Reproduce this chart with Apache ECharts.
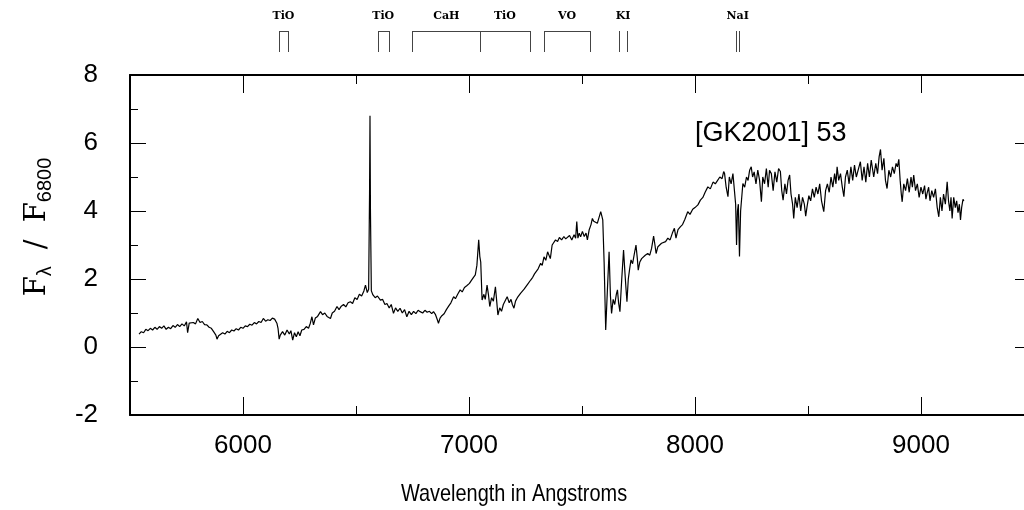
<!DOCTYPE html>
<html>
<head>
<meta charset="utf-8">
<script src="https://cdn.jsdelivr.net/npm/echarts@6/dist/echarts.min.js"></script>
<style>html,body{margin:0;padding:0;background:#fff}#c{width:1024px;height:510px}</style>
</head>
<body>
<div id="c"></div>
<script>
// Spectrum (wavelength in Angstroms, normalized flux F_lambda / F_6800)
const wavelength = [5540,5550,5560,5570,5580,5590,5600,5610,5620,5630,5640,5650,5660,5670,5680,5690,5700,5710,5720,5730,5740,5750,5755,5762,5770,5780,5790,5800,5810,5820,5830,5840,5850,5860,5870,5880,5885,5892,5900,5910,5920,5930,5940,5950,5960,5970,5980,5990,6000,6010,6020,6030,6040,6050,6060,6070,6080,6090,6100,6110,6120,6130,6140,6150,6155,6160,6165,6175,6185,6195,6205,6212,6220,6228,6236,6244,6252,6260,6270,6280,6290,6298,6305,6312,6320,6330,6343,6352,6362,6372,6380,6387,6395,6405,6416,6425,6435,6445,6455,6465,6475,6485,6495,6505,6515,6525,6535,6542,6550,6556,6560,6562,6564,6568,6575,6585,6595,6608,6618,6628,6637,6647,6656,6666,6675,6685,6695,6705,6715,6725,6735,6745,6755,6765,6775,6784,6795,6805,6815,6825,6835,6843,6852,6860,6865,6872,6880,6890,6900,6910,6920,6932,6940,6950,6961,6970,6980,6990,7002,7010,7020,7028,7035,7043,7048,7052,7058,7066,7072,7080,7086,7092,7100,7108,7117,7122,7128,7136,7144,7152,7160,7169,7178,7186,7192,7199,7206,7214,7222,7228,7236,7244,7252,7260,7268,7273,7282,7290,7298,7306,7317,7324,7332,7340,7348,7354,7360,7368,7376,7383,7392,7400,7410,7420,7428,7435,7445,7455,7465,7472,7477,7482,7488,7494,7502,7510,7518,7524,7532,7540,7546,7552,7560,7568,7575,7583,7588,7592,7598,7605,7612,7620,7626,7631,7638,7645,7652,7657,7662,7668,7676,7684,7690,7695,7699,7705,7711,7717,7724,7732,7739,7745,7749,7756,7764,7772,7780,7791,7800,7808,7817,7823,7828,7836,7844,7852,7860,7870,7880,7890,7900,7909,7916,7925,7936,7945,7955,7968,7978,7990,8000,8013,8024,8035,8045,8057,8068,8080,8090,8101,8110,8120,8127,8131,8138,8146,8152,8160,8168,8175,8180,8184,8188,8192,8197,8202,8212,8220,8228,8235,8242,8249,8255,8262,8270,8278,8286,8294,8300,8308,8316,8324,8330,8338,8346,8354,8362,8370,8378,8384,8390,8398,8405,8412,8419,8425,8432,8437,8444,8452,8460,8468,8476,8484,8490,8496,8504,8512,8520,8528,8536,8544,8552,8560,8570,8578,8586,8594,8602,8610,8618,8624,8629,8636,8644,8652,8659,8666,8674,8682,8690,8698,8706,8714,8722,8732,8740,8748,8756,8764,8772,8780,8791,8800,8808,8815,8821,8828,8836,8843,8850,8858,8866,8874,8882,8890,8896,8902,8908,8913,8917,8924,8932,8940,8948,8956,8962,8968,8976,8984,8992,9000,9008,9016,9022,9027,9034,9040,9048,9056,9064,9072,9079,9086,9093,9100,9108,9116,9122,9128,9133,9138,9145,9152,9158,9164,9170,9175,9180,9186,9190];
const flux = [0.38,0.45,0.42,0.52,0.48,0.55,0.50,0.58,0.52,0.60,0.55,0.62,0.52,0.58,0.54,0.63,0.58,0.66,0.60,0.68,0.62,0.74,0.42,0.70,0.66,0.72,0.68,0.84,0.72,0.75,0.66,0.65,0.58,0.55,0.45,0.35,0.23,0.33,0.30,0.42,0.38,0.46,0.42,0.50,0.47,0.54,0.50,0.58,0.55,0.62,0.60,0.67,0.64,0.72,0.68,0.75,0.72,0.84,0.76,0.80,0.78,0.85,0.82,0.70,0.55,0.23,0.35,0.45,0.35,0.50,0.38,0.48,0.20,0.42,0.30,0.45,0.33,0.50,0.52,0.60,0.55,0.70,0.89,0.65,0.85,0.90,1.04,0.95,1.00,0.90,0.95,0.84,1.00,1.05,1.19,1.10,1.20,1.25,1.18,1.30,1.33,1.28,1.45,1.40,1.55,1.50,1.65,1.82,1.60,1.70,4.5,6.8,4.0,1.65,1.53,1.45,1.50,1.38,1.40,1.25,1.28,1.15,1.25,0.99,1.15,1.05,1.14,1.00,1.10,0.89,1.05,0.95,1.05,0.98,1.08,1.04,1.00,1.08,1.02,1.05,0.98,1.04,0.95,0.80,0.70,0.85,0.92,0.98,1.10,1.20,1.30,1.48,1.42,1.55,1.68,1.62,1.75,1.80,1.87,1.95,2.05,2.12,2.40,3.15,2.66,2.50,1.38,1.55,1.40,1.82,1.55,1.19,1.45,1.35,1.77,1.40,0.94,1.15,1.05,1.25,1.20,1.48,1.30,1.40,1.25,1.14,1.35,1.45,1.40,1.58,1.55,1.70,1.65,1.85,1.80,1.97,2.05,2.15,2.10,2.30,2.46,2.40,2.65,2.55,2.80,2.85,2.60,3.00,2.95,3.15,3.10,3.22,3.15,3.25,3.18,3.20,3.28,3.15,3.30,3.20,3.69,3.20,3.35,3.24,3.40,3.25,3.35,3.15,3.45,3.60,3.78,3.70,3.65,3.64,3.80,3.98,3.85,3.74,2.50,0.50,1.60,2.80,1.50,0.99,1.40,1.25,1.55,1.68,1.30,1.04,2.00,2.85,2.20,1.70,1.33,2.00,2.30,2.56,2.45,2.75,3.00,2.60,2.26,2.50,2.60,2.55,2.70,2.75,2.70,2.90,3.26,3.00,2.75,2.95,2.90,3.05,3.00,3.10,3.20,3.15,3.35,3.49,3.20,3.45,3.54,3.60,3.75,3.98,3.90,4.05,4.10,4.18,4.32,4.40,4.55,4.71,4.65,4.85,4.80,4.91,5.00,4.95,5.16,5.10,4.70,4.42,5.00,4.80,5.10,5.06,4.20,3.00,4.00,4.20,2.66,4.00,4.81,4.70,5.00,4.90,5.20,5.30,5.00,5.15,4.80,5.20,4.90,4.27,5.00,4.80,5.25,4.70,5.20,5.10,4.60,5.15,4.85,5.25,5.16,4.60,4.32,4.80,4.50,4.90,5.06,4.50,4.20,3.78,4.40,4.10,4.50,4.00,4.40,4.20,3.85,4.13,4.45,4.30,4.65,4.40,4.70,4.50,4.80,4.30,3.98,4.60,4.80,4.55,5.00,4.70,5.10,4.80,5.30,4.90,5.10,4.70,4.42,5.00,5.20,4.80,5.30,4.90,5.35,5.00,5.20,5.45,4.90,5.30,4.85,5.40,5.00,5.50,5.00,5.40,5.10,5.60,5.81,5.20,5.55,4.90,4.66,5.20,5.00,5.30,5.10,5.40,5.30,5.52,4.90,4.50,4.27,4.80,4.60,4.95,4.55,5.00,4.70,5.06,4.60,4.80,4.40,4.70,4.50,4.75,4.35,4.52,4.70,4.30,4.60,4.40,4.65,4.10,3.83,4.40,4.00,4.50,4.20,4.86,4.30,4.00,4.40,3.78,4.40,4.10,4.30,3.95,4.20,3.74,4.10,4.34,4.30];

// Axis ticks
const xMajorTicks = [6000, 7000, 8000, 9000];
const xMinorTicks = [6500, 7500, 8500];

// Spectral feature markers (top)
const bandLabels = ['TiO', 'TiO', 'CaH', 'TiO', 'VO', 'KI', 'NaI'];
const bandStart  = [6158, 6597, 6750, 7050, 7334, 7665, 8183];
const bandEnd    = [6200, 6644, 7050, 7268, 7534, 7699, 8195];
const bandBar    = [1, 1, 1, 1, 1, 0, 0];

const objectName = '[GK2001] 53';
const xTitle = 'Wavelength in Angstroms';

const FONT = '"Liberation Sans", Arial, Helvetica, sans-serif';
const SERIF = '"DejaVu Serif", "Liberation Serif", serif';
const chart = echarts.init(document.getElementById('c'));

// plot frame continues past the right edge of the picture
const commonX = {type: 'value', min: 5500, max: 9456};
chart.setOption({
  animation: false,
  backgroundColor: '#fff',
  grid: [
    {left: 130, right: 0, top: 75, height: 340},
    {left: 130, right: 0, top: 31, height: 21}
  ],
  title: {
    text: objectName, left: 695, top: 120, padding: 0,
    textStyle: {fontFamily: FONT, fontSize: 27, fontWeight: 'normal', color: '#000'}
  },
  graphic: [
    {
      type: 'text', x: 514, y: 494, scaleX: 0.83, silent: true,
      style: {text: xTitle, align: 'center', verticalAlign: 'middle', font: '24px ' + FONT, fill: '#000'}
    },
    {
      type: 'text', x: 37, y: 227, rotation: Math.PI / 2, silent: true,
      style: {
        text: '{f|F}{s|λ}{g|/}{f|F}{s|6800}',
        align: 'center', verticalAlign: 'middle',
        rich: {
          f: {fontFamily: SERIF, fontSize: 29, fill: '#000', lineHeight: 36, verticalAlign: 'middle'},
          s: {fontFamily: FONT, fontSize: 20, fill: '#000', lineHeight: 36, verticalAlign: 'bottom'},
          g: {fontFamily: SERIF, fontSize: 29, fill: '#000', lineHeight: 36, verticalAlign: 'middle', padding: [0, 17, 0, 17]}
        }
      }
    }
  ],
  xAxis: [
    Object.assign({}, commonX, {
      gridIndex: 0, position: 'bottom',
      axisLine: {show: true, onZero: false, lineStyle: {color: '#000', width: 2}},
      axisTick: {show: true, inside: true, length: 18, customValues: xMajorTicks, lineStyle: {color: '#000', width: 1}},
      axisLabel: {show: true, customValues: xMajorTicks, margin: 18, fontFamily: FONT, fontSize: 26, color: '#000', formatter: v => String(v)},
      splitLine: {show: false}
    }),
    Object.assign({}, commonX, {
      gridIndex: 0, position: 'bottom',
      axisLine: {show: false, onZero: false},
      axisTick: {show: true, inside: true, length: 9, customValues: xMinorTicks, lineStyle: {color: '#000', width: 1}},
      axisLabel: {show: false}, splitLine: {show: false}
    }),
    Object.assign({}, commonX, {
      gridIndex: 0, position: 'top',
      axisLine: {show: true, onZero: false, lineStyle: {color: '#000', width: 2}},
      axisTick: {show: true, inside: true, length: 18, customValues: xMajorTicks, lineStyle: {color: '#000', width: 1}},
      axisLabel: {show: false}, splitLine: {show: false}
    }),
    Object.assign({}, commonX, {
      gridIndex: 0, position: 'top',
      axisLine: {show: false, onZero: false},
      axisTick: {show: true, inside: true, length: 9, customValues: xMinorTicks, lineStyle: {color: '#000', width: 1}},
      axisLabel: {show: false}, splitLine: {show: false}
    }),
    Object.assign({}, commonX, {gridIndex: 1, show: false})
  ],
  yAxis: [
    {
      type: 'value', gridIndex: 0, position: 'left', min: -2, max: 8, interval: 2,
      axisLine: {show: true, onZero: false, lineStyle: {color: '#000', width: 2}},
      axisTick: {show: true, inside: true, length: 16, lineStyle: {color: '#000', width: 1}},
      minorTick: {show: true, splitNumber: 2, length: 8, lineStyle: {color: '#000', width: 1}},
      axisLabel: {show: true, margin: 32, fontFamily: FONT, fontSize: 26, color: '#000'},
      splitLine: {show: false}, minorSplitLine: {show: false}
    },
    {
      type: 'value', gridIndex: 0, position: 'right', min: -2, max: 8, interval: 2,
      axisLine: {show: false, onZero: false},
      axisTick: {show: true, inside: true, length: 9, lineStyle: {color: '#000', width: 1}},
      axisLabel: {show: false}, splitLine: {show: false}
    },
    {type: 'value', gridIndex: 1, min: 0, max: 1, show: false}
  ],
  series: [
    {
      type: 'line', xAxisIndex: 0, yAxisIndex: 0,
      data: wavelength.map((w, i) => [w, flux[i]]),
      showSymbol: false, symbol: 'none', sampling: null,
      lineStyle: {color: '#000', width: 1.2}, silent: true, clip: true
    },
    {
      type: 'custom', xAxisIndex: 4, yAxisIndex: 2, clip: false, silent: true,
      data: bandStart.map((s, i) => [s, bandEnd[i], i]),
      renderItem: function (params, api) {
        const i = api.value(2);
        const a0 = api.coord([api.value(0), 0]);
        const a1 = api.coord([api.value(0), 1]);
        const b0 = api.coord([api.value(1), 0]);
        const b1 = api.coord([api.value(1), 1]);
        const ls = {stroke: '#444', lineWidth: 1};
        const ax = Math.round(a0[0]) + 0.5, bx = Math.round(b0[0]) + 0.5;
        const children = [
          {type: 'line', shape: {x1: ax, y1: a0[1], x2: ax, y2: a1[1]}, style: ls},
          {type: 'line', shape: {x1: bx, y1: b0[1], x2: bx, y2: b1[1]}, style: ls}
        ];
        if (bandBar[i]) {
          const y = Math.round(a1[1]) + 0.5;
          children.push({type: 'line', shape: {x1: ax, y1: y, x2: bx, y2: y}, style: ls});
        }
        children.push({
          type: 'text',
          style: {
            text: bandLabels[i], x: (a0[0] + b0[0]) / 2, y: a1[1] - 15,
            align: 'center', verticalAlign: 'middle',
            font: 'bold 11px ' + SERIF, fill: '#000'
          }
        });
        return {type: 'group', children: children};
      }
    }
  ]
});
</script>
</body>
</html>
